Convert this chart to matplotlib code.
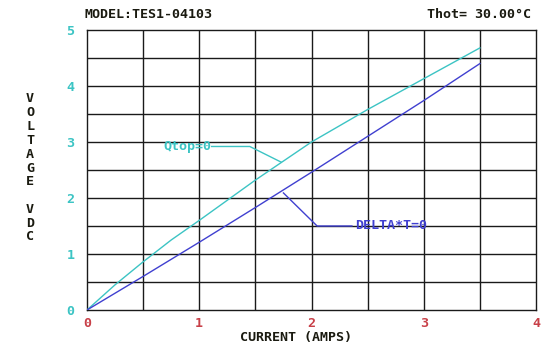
import matplotlib
matplotlib.use("Agg")
import matplotlib.pyplot as plt

# Data
qtop_I = [0, 0.25, 0.5, 0.75, 1.0, 1.5, 2.0, 2.5, 3.0, 3.5]
qtop_V = [0, 0.45, 0.86, 1.25, 1.6, 2.32, 3.0, 3.58, 4.13, 4.68]
dt_I = [0, 0.5, 1.0, 1.5, 2.0, 2.5, 3.0, 3.5]
dt_V = [0, 0.6, 1.21, 1.83, 2.46, 3.1, 3.74, 4.4]
x_ticks = [0, 1, 2, 3, 4]
y_ticks = [0, 1, 2, 3, 4, 5]

CYAN = "#3cc4c4"
BLUE = "#4040d0"
RED = "#c84048"
DARK = "#1a1a10"
FONT = "DejaVu Sans Mono"
FS = 9.6

W, H = 559, 350
fig = plt.figure(figsize=(W / 100, H / 100), dpi=100)
ax = fig.add_axes([87 / W, 1 - 310 / H, (536 - 87) / W, (310 - 30) / H])
ax.set_xlim(0, 4)
ax.set_ylim(0, 5)

# grid
for gx in [i * 0.5 for i in range(1, 8)]:
    ax.axvline(gx, color="#1a1a1a", lw=1.0, zorder=1)
for gy in [i * 0.5 for i in range(1, 10)]:
    ax.axhline(gy, color="#1a1a1a", lw=1.0, zorder=1)
for s in ax.spines.values():
    s.set_color("#1a1a1a")
    s.set_linewidth(1.0)

ax.plot(qtop_I, qtop_V, color=CYAN, lw=1.0, zorder=3)
ax.plot(dt_I, dt_V, color=BLUE, lw=1.0, zorder=3)

ax.set_xticks(x_ticks)
ax.set_yticks(y_ticks)
ax.tick_params(length=0)
ax.set_xticklabels([str(v) for v in x_ticks], color=RED, fontsize=FS,
                   family=FONT, fontweight="bold")
ax.set_yticklabels([str(v) for v in y_ticks], color=CYAN, fontsize=FS,
                   family=FONT, fontweight="bold")
ax.tick_params(axis="y", pad=9)
ax.tick_params(axis="x", pad=5)

# leader annotations
ax.plot([1.11, 1.45, 1.73], [2.92, 2.92, 2.64], color=CYAN, lw=1.0, zorder=3)
ax.text(0.68, 2.92, "Qtop=0", color=CYAN, fontsize=FS, family=FONT,
        fontweight="bold", va="center", ha="left")
ax.plot([1.75, 2.05, 2.36], [2.09, 1.5, 1.5], color=BLUE, lw=1.0, zorder=3)
ax.text(2.39, 1.5, "DELTA*T=0", color=BLUE, fontsize=FS, family=FONT,
        fontweight="bold", va="center", ha="left")

fig.text(84 / W, 1 - 15 / H, "MODEL:TES1-04103", color=DARK, fontsize=FS,
         family=FONT, fontweight="bold", va="center", ha="left")
fig.text(531 / W, 1 - 14 / H, "Thot= 30.00°C", color=DARK, fontsize=FS,
         family=FONT, fontweight="bold", va="center", ha="right")
fig.text(296 / W, 1 - 337 / H, "CURRENT (AMPS)", color=DARK, fontsize=FS,
         family=FONT, fontweight="bold", va="center", ha="center")
fig.text(30 / W, 1 - 168 / H, "V\nO\nL\nT\nA\nG\nE\n\nV\nD\nC", color=DARK,
         fontsize=FS, family=FONT, fontweight="bold", va="center",
         ha="center", linespacing=1.08)

fig.savefig("out.png", dpi=100)
